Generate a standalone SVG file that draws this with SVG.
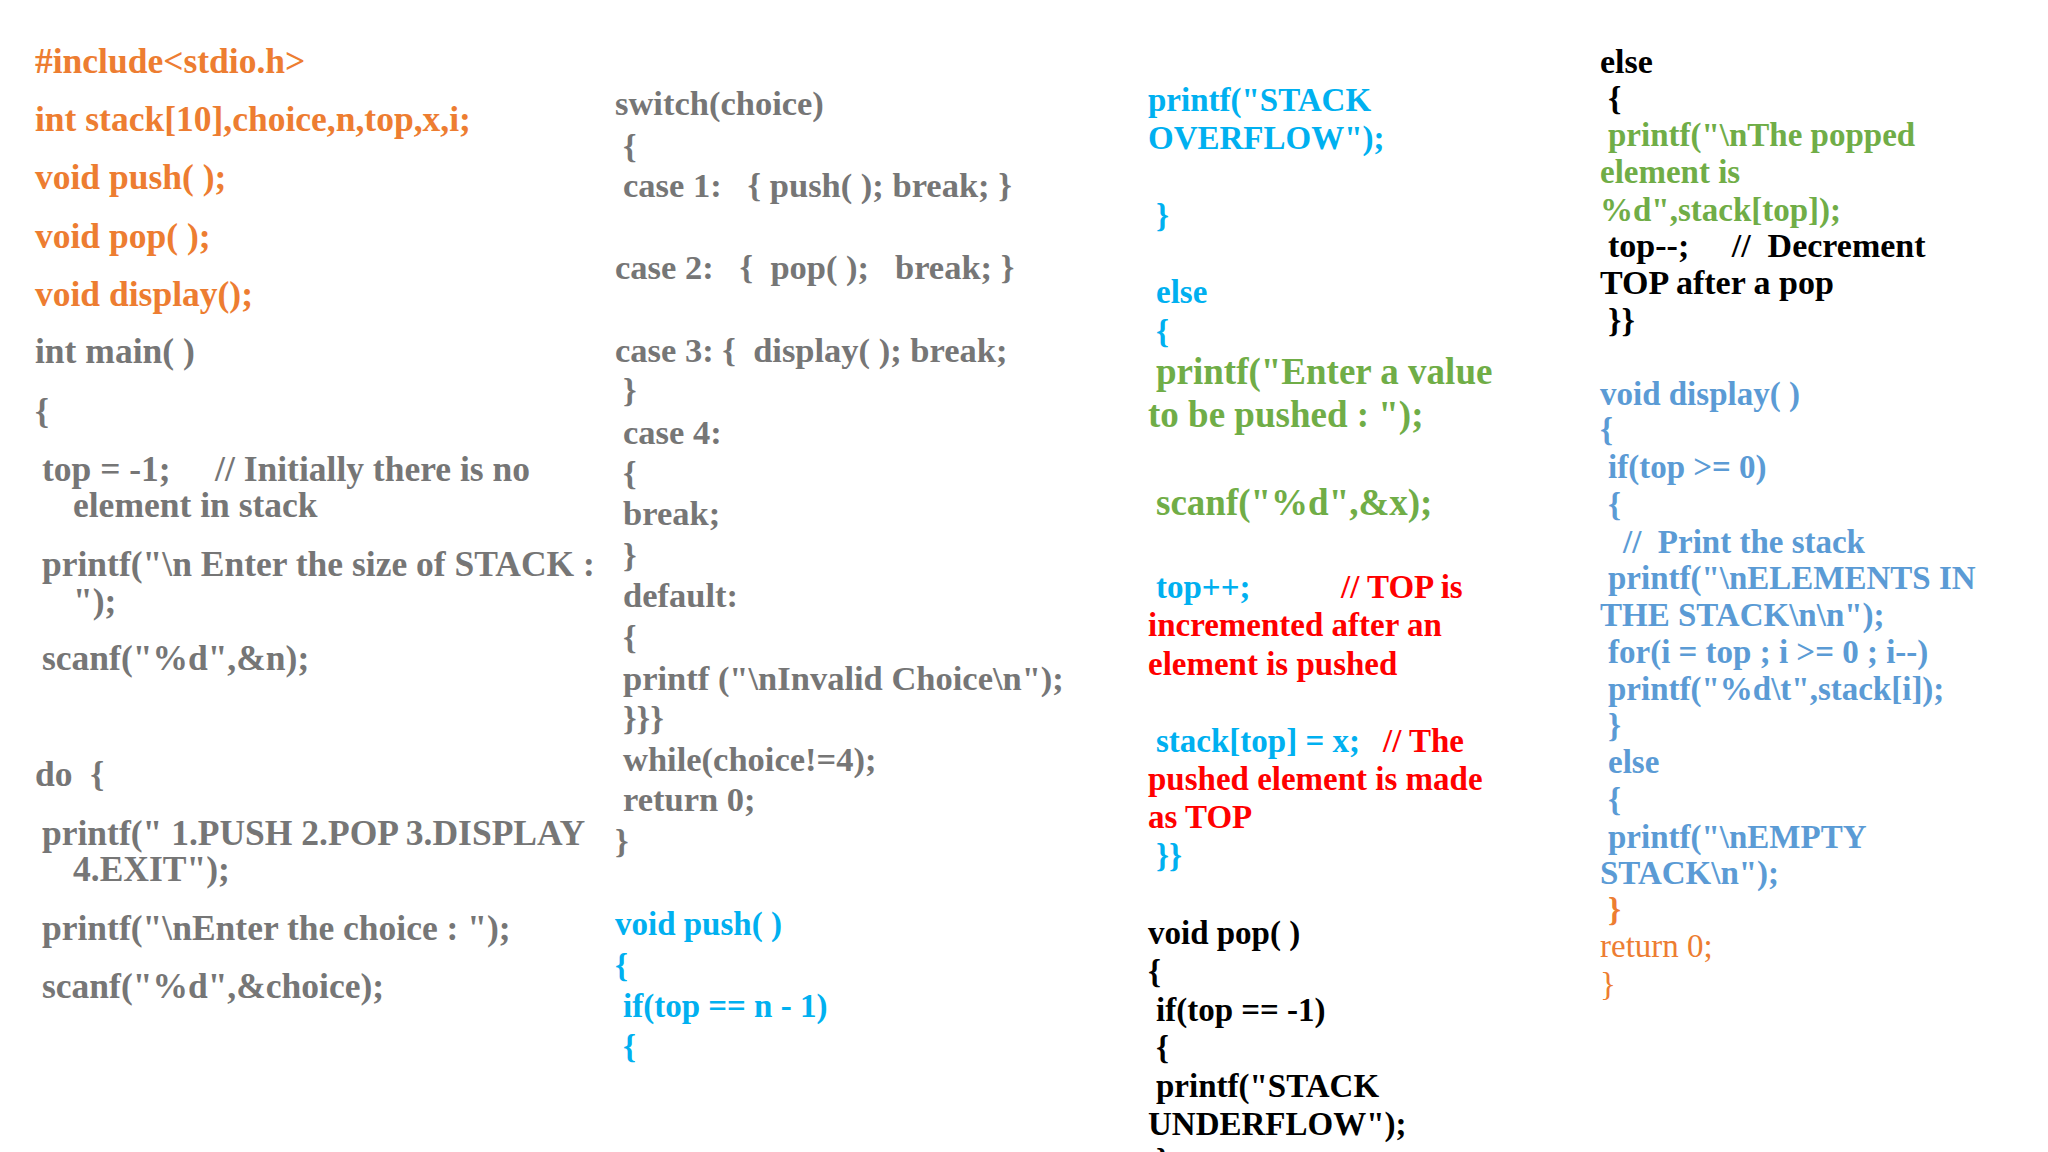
<svg xmlns="http://www.w3.org/2000/svg" width="2048" height="1152" viewBox="0 0 2048 1152">
<style>
text{font-family:"Liberation Serif","DejaVu Serif",serif;font-weight:bold;font-size:33px;white-space:pre}
.o{fill:#ED7D31}.g{fill:#767676}.c{fill:#00B0F0}.gr{fill:#70AD47}.r{fill:#FF0000}.k{fill:#000}.b{fill:#5B9BD5}
.big{font-size:37px}.n{font-weight:normal}
#col1 text{font-size:35.5px}#col2 text.g{font-size:34.5px}#col4 text.k{font-size:34px}
</style>
<rect width="2048" height="1152" fill="#fff"/>
<g id="col1">
<text class="o" x="35" y="73">#include&lt;stdio.h&gt;</text>
<text class="o" x="35" y="131">int stack[10],choice,n,top,x,i;</text>
<text class="o" x="35" y="189">void push( );</text>
<text class="o" x="35" y="248">void pop( );</text>
<text class="o" x="35" y="306">void display();</text>
<text class="g" x="35" y="363">int main( )</text>
<text class="g" x="35" y="423">{</text>
<text class="g" x="42" y="481">top = -1;     // Initially there is no</text>
<text class="g" x="73" y="517">element in stack</text>
<text class="g" x="42" y="576">printf("\n Enter the size of STACK :</text>
<text class="g" x="73" y="613">");</text>
<text class="g" x="42" y="670">scanf("%d",&amp;n);</text>
<text class="g" x="35" y="786">do  {</text>
<text class="g" x="42" y="845">printf(" 1.PUSH 2.POP 3.DISPLAY</text>
<text class="g" x="73" y="881">4.EXIT");</text>
<text class="g" x="42" y="940">printf("\nEnter the choice : ");</text>
<text class="g" x="42" y="998">scanf("%d",&amp;choice);</text>
</g>
<g id="col2">
<text class="g" x="615" y="115">switch(choice)</text>
<text class="g" x="623" y="158">{</text>
<text class="g" x="623" y="197">case 1:   { push( ); break; }</text>
<text class="g" x="615" y="279">case 2:   {  pop( );   break; }</text>
<text class="g" x="615" y="362">case 3: {  display( ); break;</text>
<text class="g" x="623" y="402">}</text>
<text class="g" x="623" y="444">case 4:</text>
<text class="g" x="623" y="485">{</text>
<text class="g" x="623" y="525">break;</text>
<text class="g" x="623" y="567">}</text>
<text class="g" x="623" y="607">default:</text>
<text class="g" x="623" y="649">{</text>
<text class="g" x="623" y="690">printf ("\nInvalid Choice\n");</text>
<text class="g" x="623" y="730">}}}</text>
<text class="g" x="623" y="771">while(choice!=4);</text>
<text class="g" x="623" y="811">return 0;</text>
<text class="g" x="615" y="853">}</text>
<text class="c" x="615" y="935">void push( )</text>
<text class="c" x="615" y="977">{</text>
<text class="c" x="623" y="1017">if(top == n - 1)</text>
<text class="c" x="623" y="1058">{</text>
</g>
<g id="col3">
<text class="c" x="1148" y="111">printf("STACK</text>
<text class="c" x="1148" y="149">OVERFLOW");</text>
<text class="c" x="1156" y="227">}</text>
<text class="c" x="1156" y="303">else</text>
<text class="c" x="1156" y="343">{</text>
<text class="gr big" x="1156" y="384">printf("Enter a value</text>
<text class="gr big" x="1148" y="427">to be pushed : ");</text>
<text class="gr big" x="1156" y="515">scanf("%d",&amp;x);</text>
<text class="c" x="1156" y="598">top++;</text>
<text class="r" x="1341" y="598">// TOP is</text>
<text class="r" x="1148" y="636">incremented after an</text>
<text class="r" x="1148" y="675">element is pushed</text>
<text class="c" x="1156" y="752">stack[top] = x;</text>
<text class="r" x="1383" y="752">// The</text>
<text class="r" x="1148" y="790">pushed element is made</text>
<text class="r" x="1148" y="828">as TOP</text>
<text class="c" x="1156" y="867">}}</text>
<text class="k" x="1148" y="944">void pop( )</text>
<text class="k" x="1148" y="983">{</text>
<text class="k" x="1156" y="1021">if(top == -1)</text>
<text class="k" x="1156" y="1059">{</text>
<text class="k" x="1156" y="1097">printf("STACK</text>
<text class="k" x="1148" y="1135">UNDERFLOW");</text>
<text class="k" x="1156" y="1172">}</text>
</g>
<g id="col4">
<text class="k" x="1600" y="73">else</text>
<text class="k" x="1608" y="110">{</text>
<text class="gr" x="1608" y="146">printf("\nThe popped</text>
<text class="gr" x="1600" y="183">element is</text>
<text class="gr" x="1600" y="221">%d",stack[top]);</text>
<text class="k" x="1608" y="257">top--;     //  Decrement</text>
<text class="k" x="1600" y="294">TOP after a pop</text>
<text class="k" x="1608" y="332">}}</text>
<text class="b" x="1600" y="405">void display( )</text>
<text class="b" x="1600" y="441">{</text>
<text class="b" x="1608" y="478">if(top &gt;= 0)</text>
<text class="b" x="1608" y="516">{</text>
<text class="b" x="1623" y="553">//  Print the stack</text>
<text class="b" x="1608" y="589">printf("\nELEMENTS IN</text>
<text class="b" x="1600" y="626">THE STACK\n\n");</text>
<text class="b" x="1608" y="663">for(i = top ; i &gt;= 0 ; i--)</text>
<text class="b" x="1608" y="700">printf("%d\t",stack[i]);</text>
<text class="b" x="1608" y="737">}</text>
<text class="b" x="1608" y="773">else</text>
<text class="b" x="1608" y="811">{</text>
<text class="b" x="1608" y="848">printf("\nEMPTY</text>
<text class="b" x="1600" y="884">STACK\n");</text>
<text class="o" x="1608" y="921">}</text>
<text class="o n" x="1600" y="957">return 0;</text>
<text class="o n" x="1600" y="995">}</text>
</g>
</svg>
